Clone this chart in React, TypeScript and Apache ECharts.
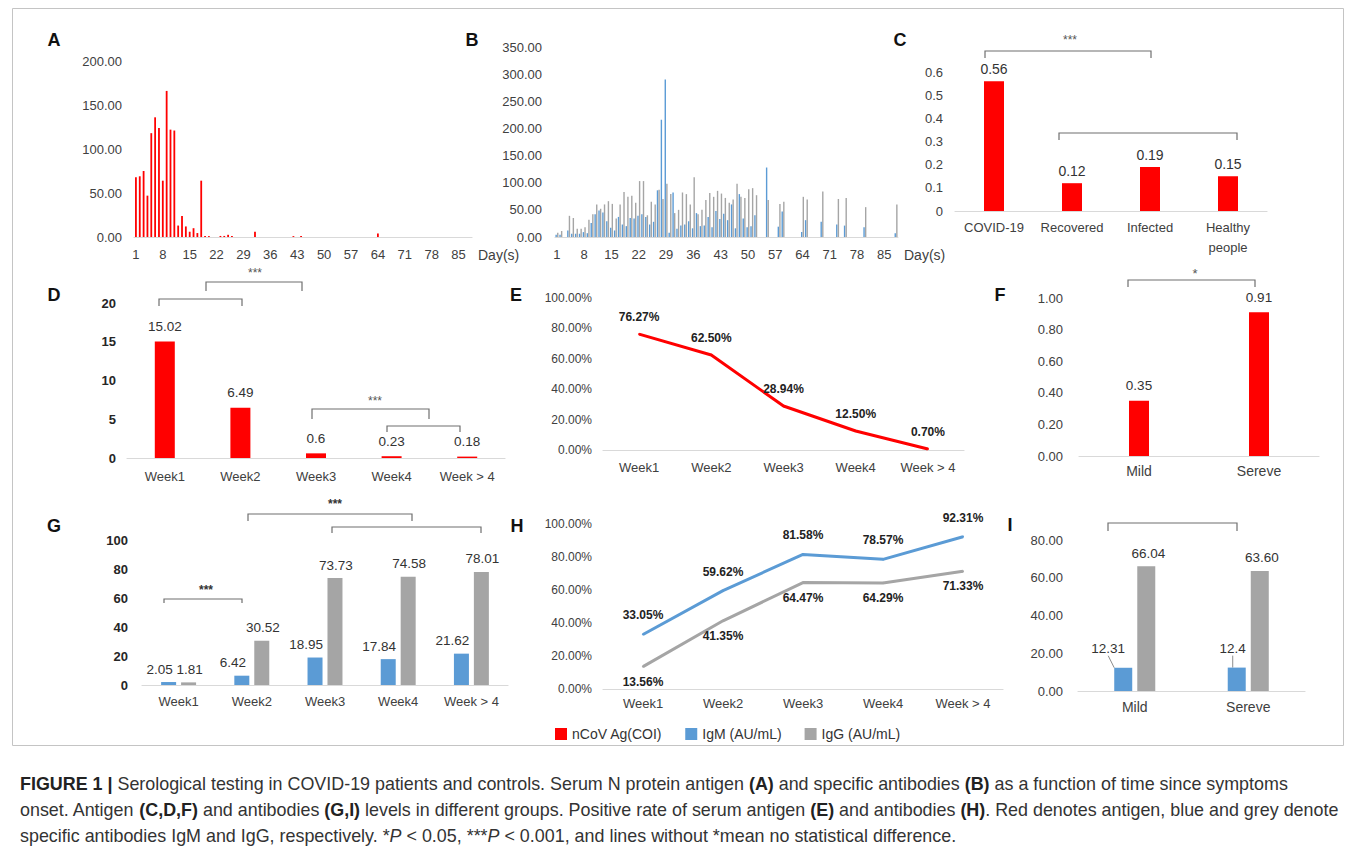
import React, { useEffect, useRef } from 'react';
import * as echarts from 'echarts';

const FONT = "'Liberation Sans', Arial, Helvetica, sans-serif";
const RED = '#ff0000';
const BLUE = '#5b9bd5';
const GRAY = '#a5a5a5';
const AXIS = '#d9d9d9';
const TICK = '#404040';
const VAL = '#333333';

// ---------- data ----------
const days: string[] = Array.from({ length: 88 }, (_, i) => String(i + 1));

const antigenByDay = [
  68, 69, 75, 47, 118, 136, 124, 64, 166, 122,
  121, 13, 24, 12, 6, 10, 4.5, 64, 1, 1,
  0, 0, 1.2, 1.2, 2.5, 1.2, 0, 0, 0, 0,
  0, 6, 0, 0, 0, 0, 0, 0, 0, 0,
  0, 1, 0, 1, 0, 0, 0, 0, 0, 0,
  0, 0, 0, 0, 0, 0, 0, 0, 0, 0,
  0, 0, 0, 4, 0, 0, 0, 0, 0, 0,
  0, 0, 0, 0, 0, 0, 0, 0, 0, 0,
  0, 0, 0, 0, 0, 0, 0, 0,
];

const igmByDay = [
  4, 4, 0, 12, 6, 6, 6, 9, 7, 26,
  42, 49, 45, 29, 17, 12, 37, 23, 20, 35,
  34, 39, 42, 37, 23, 28, 86, 216, 290, 8,
  82, 15, 21, 23, 29, 16, 44, 20, 21, 37,
  18, 48, 33, 43, 31, 60, 16, 79, 34, 18,
  20, 40, 0, 0, 128, 0, 0, 19, 47, 0,
  0, 0, 0, 9, 31, 0, 0, 0, 28, 0,
  0, 0, 23, 0, 21, 0, 0, 0, 0, 18,
  0, 0, 0, 0, 0, 0, 0, 7,
];

const iggByDay = [
  8, 11, 0, 39, 35, 15, 15, 18, 32, 42,
  60, 52, 60, 66, 61, 34, 60, 83, 74, 76,
  63, 103, 103, 40, 65, 60, 87, 70, 98, 79,
  44, 50, 82, 79, 60, 110, 42, 50, 68, 81,
  74, 85, 80, 72, 63, 69, 98, 74, 72, 88,
  90, 77, 0, 0, 68, 0, 0, 61, 65, 0,
  0, 0, 0, 74, 69, 0, 0, 0, 84, 0,
  0, 0, 70, 0, 72, 0, 0, 0, 0, 55,
  0, 0, 0, 0, 0, 0, 0, 60,
];

const groupsC = ['COVID-19', 'Recovered', 'Infected', 'Healthy\npeople'];
const antigenC = [0.56, 0.12, 0.19, 0.15];

const weeks = ['Week1', 'Week2', 'Week3', 'Week4', 'Week > 4'];
const antigenD = [15.02, 6.49, 0.6, 0.23, 0.18];
const antigenRateE = [76.27, 62.5, 28.94, 12.5, 0.7];

const severity = ['Mild', 'Sereve'];
const antigenF = [0.35, 0.91];

const igmG = [2.05, 6.42, 18.95, 17.84, 21.62];
const iggG = [1.81, 30.52, 73.73, 74.58, 78.01];

const igmRateH = [33.05, 59.62, 81.58, 78.57, 92.31];
const iggRateH = [13.56, 41.35, 64.47, 64.29, 71.33];

const igmI = [12.31, 12.4];
const iggI = [66.04, 63.6];

const NAME_AG = 'nCoV Ag(COI)';
const NAME_M = 'IgM (AU/mL)';
const NAME_G = 'IgG (AU/mL)';

// ---------- helpers ----------
function xAx(gridIndex: number, data: string[], fontSize: number, margin: number, extra: any = {}) {
  return {
    type: 'category',
    gridIndex,
    data,
    axisLine: { lineStyle: { color: AXIS, width: 1.2 } },
    axisTick: { show: false },
    axisLabel: { color: TICK, fontSize, margin, fontFamily: FONT, ...(extra.axisLabel || {}) },
    ...Object.fromEntries(Object.entries(extra).filter(([k]) => k !== 'axisLabel')),
  };
}

function yAx(gridIndex: number, max: number, interval: number, fmt: (v: number) => string, fontSize: number, margin: number, bold = false) {
  return {
    type: 'value',
    gridIndex,
    min: 0,
    max,
    interval,
    splitLine: { show: false },
    axisLine: { show: false },
    axisTick: { show: false },
    axisLabel: {
      color: bold ? '#262626' : TICK,
      fontSize,
      margin,
      fontFamily: FONT,
      fontWeight: bold ? 'bold' : 'normal',
      formatter: (v: number) => fmt(v),
    },
  };
}

const f2 = (v: number) => v.toFixed(2);
const pct = (v: number) => v.toFixed(2) + '%';

function bracket(x1: number, x2: number, y: number, drop: number) {
  return {
    type: 'polyline',
    shape: { points: [[x1, y + drop], [x1, y], [x2, y], [x2, y + drop]] },
    style: { stroke: '#6f6f6f', lineWidth: 1.2, fill: 'none' },
    silent: true,
  };
}

function txt(x: number, y: number, text: string, fontSize: number, extra: any = {}) {
  return {
    type: 'text',
    x,
    y,
    silent: true,
    style: {
      text,
      fill: '#222',
      fontSize,
      fontFamily: FONT,
      align: 'center',
      verticalAlign: 'middle',
      ...extra,
    },
  };
}

function buildOption(): any {
  const grids = [
    { left: 134, top: 61, width: 338, height: 176 }, // A
    { left: 555, top: 47, width: 343, height: 190 }, // B
    { left: 955, top: 72, width: 312, height: 139 }, // C
    { left: 127, top: 303, width: 378, height: 155 }, // D
    { left: 603, top: 298, width: 361, height: 152 }, // E
    { left: 1079, top: 298, width: 240, height: 158 }, // F
    { left: 142, top: 540, width: 366, height: 145 }, // G
    { left: 603, top: 524, width: 400, height: 165 }, // H
    { left: 1078, top: 540, width: 227, height: 151 }, // I
  ].map((g) => ({ ...g, containLabel: false, outerBoundsMode: 'none' }));

  const dayName = {
    name: 'Day(s)',
    nameLocation: 'end',
    nameGap: 6,
    nameTextStyle: { color: TICK, fontSize: 14, fontFamily: FONT, align: 'left', verticalAlign: 'top', padding: [11, 0, 0, 0] },
  };

  const xAxis = [
    xAx(0, days, 13, 11, { axisLabel: { interval: 6 }, ...dayName }),
    xAx(1, days, 13, 11, { axisLabel: { interval: 6 }, ...dayName }),
    xAx(2, groupsC, 13, 6, { axisLabel: { lineHeight: 20, interval: 0 } }),
    xAx(3, weeks, 13, 12, { axisLabel: { interval: 0 } }),
    xAx(4, weeks, 13, 11, { axisLabel: { interval: 0 } }),
    xAx(5, severity, 14, 8),
    xAx(6, weeks, 13, 10, { axisLabel: { interval: 0 } }),
    xAx(7, weeks, 13, 8, { axisLabel: { interval: 0 } }),
    xAx(8, severity, 14, 9),
  ];

  const yAxis = [
    yAx(0, 200, 50, f2, 13, 12),
    yAx(1, 350, 50, f2, 13, 13),
    yAx(2, 0.6, 0.1, (v) => (v === 0 ? '0' : v.toFixed(1)), 13, 12),
    yAx(3, 20, 5, (v) => String(v), 13, 11, true),
    yAx(4, 100, 20, pct, 12, 11),
    yAx(5, 1, 0.2, f2, 13, 16),
    yAx(6, 100, 20, (v) => String(v), 13, 14, true),
    yAx(7, 100, 20, pct, 12, 11),
    yAx(8, 80, 20, f2, 13, 15),
  ];

  const valLabel = (fmt: (v: number) => string, fontSize = 13, extra: any = {}) => ({
    show: true,
    position: 'top',
    distance: 5,
    color: VAL,
    fontSize,
    fontFamily: FONT,
    formatter: (p: any) => fmt(p.value),
    ...extra,
  });

  const series: any[] = [
    // A
    { name: NAME_AG, type: 'bar', xAxisIndex: 0, yAxisIndex: 0, data: antigenByDay, barWidth: 1.8, itemStyle: { color: RED } },
    // B
    { name: NAME_M, type: 'bar', xAxisIndex: 1, yAxisIndex: 1, data: igmByDay, barWidth: 1.4, barGap: '15%', itemStyle: { color: BLUE } },
    { name: NAME_G, type: 'bar', xAxisIndex: 1, yAxisIndex: 1, data: iggByDay, barWidth: 1.4, barGap: '15%', itemStyle: { color: GRAY } },
    // C
    { name: NAME_AG, type: 'bar', xAxisIndex: 2, yAxisIndex: 2, data: antigenC, barWidth: 20, itemStyle: { color: RED }, label: valLabel((v) => v.toFixed(2), 14) },
    // D
    { name: NAME_AG, type: 'bar', xAxisIndex: 3, yAxisIndex: 3, data: antigenD, barWidth: 20, itemStyle: { color: RED }, label: valLabel((v) => String(v), 13.5, { distance: 8 }) },
    // E
    {
      name: NAME_AG, type: 'line', xAxisIndex: 4, yAxisIndex: 4, data: antigenRateE,
      symbol: 'circle', symbolSize: 2, itemStyle: { color: RED }, lineStyle: { color: RED, width: 3 },
      label: valLabel((v) => v.toFixed(2) + '%', 12, { fontWeight: 'bold', color: '#222', distance: 10 }),
    },
    // F
    { name: NAME_AG, type: 'bar', xAxisIndex: 5, yAxisIndex: 5, data: antigenF, barWidth: 20, itemStyle: { color: RED }, label: valLabel((v) => v.toFixed(2), 13.5, { distance: 8 }) },
    // G
    {
      name: NAME_M, type: 'bar', xAxisIndex: 6, yAxisIndex: 6, data: igmG, barWidth: 15, barGap: '33%', itemStyle: { color: BLUE },
      label: valLabel((v) => v.toFixed(2), 13.5, { offset: [-9, 0], distance: 6 }),
    },
    {
      name: NAME_G, type: 'bar', xAxisIndex: 6, yAxisIndex: 6, data: iggG, barWidth: 15, barGap: '33%', itemStyle: { color: GRAY },
      label: valLabel((v) => v.toFixed(2), 13.5, { offset: [1, 0], distance: 6 }),
    },
    // H
    {
      name: NAME_M, type: 'line', xAxisIndex: 7, yAxisIndex: 7, data: igmRateH,
      symbol: 'circle', symbolSize: 2, itemStyle: { color: BLUE }, lineStyle: { color: BLUE, width: 3 },
      label: valLabel((v) => v.toFixed(2) + '%', 12, { fontWeight: 'bold', color: '#222', distance: 12 }),
    },
    {
      name: NAME_G, type: 'line', xAxisIndex: 7, yAxisIndex: 7, data: iggRateH,
      symbol: 'circle', symbolSize: 2, itemStyle: { color: GRAY }, lineStyle: { color: GRAY, width: 3 },
      label: valLabel((v) => v.toFixed(2) + '%', 12, { fontWeight: 'bold', color: '#222', position: 'bottom', distance: 8 }),
    },
    // I
    {
      name: NAME_M, type: 'bar', xAxisIndex: 8, yAxisIndex: 8, data: igmI, barWidth: 18, barGap: '28%', itemStyle: { color: BLUE },
      label: valLabel((v) => String(v), 13.5, { distance: 5 }),
      labelLayout: (p: any) => ({ dx: p.dataIndex === 0 ? -15 : -4, dy: -7 }),
      labelLine: { show: true, lineStyle: { color: '#8c8c8c', width: 1 } },
    },
    {
      name: NAME_G, type: 'bar', xAxisIndex: 8, yAxisIndex: 8, data: iggI, barWidth: 18, barGap: '28%', itemStyle: { color: GRAY },
      label: valLabel((v) => v.toFixed(2), 13.5, { offset: [2, 0], distance: 6 }),
    },
  ];

  const CAP = 17.9;
  const captionRich = {
    n: { fontSize: CAP, fontFamily: FONT, fill: '#333', fontWeight: 'normal' },
    b: { fontSize: CAP, fontFamily: FONT, fill: '#222', fontWeight: 'bold' },
    i: { fontSize: CAP, fontFamily: FONT, fill: '#333', fontStyle: 'italic' },
  };
  const capLine = (y: number, text: string) => ({
    type: 'text',
    x: 20,
    y,
    silent: true,
    style: { text, rich: captionRich, fontSize: CAP, fontFamily: FONT, fill: '#333', align: 'left', verticalAlign: 'middle' },
  });

  const graphic: any[] = [
    { type: 'rect', shape: { x: 12.5, y: 8.5, width: 1331, height: 737 }, style: { fill: 'none', stroke: '#c4c4c4', lineWidth: 1 }, silent: true },
    // panel letters
    txt(54, 40, 'A', 18, { fontWeight: 'bold', fill: '#111' }),
    txt(472, 40, 'B', 18, { fontWeight: 'bold', fill: '#111' }),
    txt(900, 40, 'C', 18, { fontWeight: 'bold', fill: '#111' }),
    txt(54, 295, 'D', 18, { fontWeight: 'bold', fill: '#111' }),
    txt(516, 295, 'E', 18, { fontWeight: 'bold', fill: '#111' }),
    txt(1000, 295, 'F', 18, { fontWeight: 'bold', fill: '#111' }),
    txt(54, 526, 'G', 18, { fontWeight: 'bold', fill: '#111' }),
    txt(517, 526, 'H', 18, { fontWeight: 'bold', fill: '#111' }),
    txt(1010, 525, 'I', 18, { fontWeight: 'bold', fill: '#111' }),
    // brackets
    bracket(985, 1151, 51, 7),
    bracket(1059, 1237, 133, 7),
    bracket(206, 302, 282, 9),
    bracket(159, 242, 299, 7),
    bracket(312, 429, 409, 10),
    bracket(387, 460, 426, 6),
    bracket(1128, 1255, 280, 7),
    bracket(248, 412, 514, 7),
    bracket(332, 481, 527, 6),
    bracket(164, 242, 599, 4),
    bracket(1108, 1237, 523, 8),
    // significance marks
    txt(1070, 40, '***', 12, { fill: '#555' }),
    txt(255, 273, '***', 12, { fill: '#555' }),
    txt(375, 401, '***', 12, { fill: '#555' }),
    txt(1195, 273, '*', 13, { fill: '#555' }),
    txt(335, 504, '***', 12, { fill: '#333', fontWeight: 'bold' }),
    txt(206, 590, '***', 12, { fill: '#333', fontWeight: 'bold' }),
    // caption
    capLine(784, '{b|FIGURE 1 |}{n| Serological testing in COVID-19 patients and controls. Serum N protein antigen }{b|(A)}{n| and specific antibodies }{b|(B)}{n| as a function of time since symptoms}'),
    capLine(810, '{n|onset. Antigen }{b|(C,D,F)}{n| and antibodies }{b|(G,I)}{n| levels in different groups. Positive rate of serum antigen }{b|(E)}{n| and antibodies }{b|(H)}{n|. Red denotes antigen, blue and grey denote}'),
    capLine(836, '{n|specific antibodies IgM and IgG, respectively. *}{i|P}{n| < 0.05, ***}{i|P}{n| < 0.001, and lines without *mean no statistical difference.}'),
  ];

  return {
    animation: false,
    backgroundColor: '#ffffff',
    textStyle: { fontFamily: FONT },
    grid: grids,
    xAxis,
    yAxis,
    series,
    legend: {
      data: [NAME_AG, NAME_M, NAME_G],
      left: 555,
      top: 727,
      padding: 0,
      icon: 'rect',
      itemWidth: 12,
      itemHeight: 12,
      itemGap: 23,
      selectedMode: false,
      textStyle: { color: '#333', fontSize: 14, fontFamily: FONT },
    },
    graphic,
  };
}

export default function App() {
  const ref = useRef<HTMLDivElement>(null);
  useEffect(() => {
    if (!ref.current) return;
    const chart = echarts.init(ref.current, null, { renderer: 'svg' });
    chart.setOption(buildOption());
    return () => chart.dispose();
  }, []);
  return (
    <div
      ref={ref}
      style={{ position: 'fixed', left: 0, top: 0, width: 1355, height: 858, background: '#fff' }}
    />
  );
}
